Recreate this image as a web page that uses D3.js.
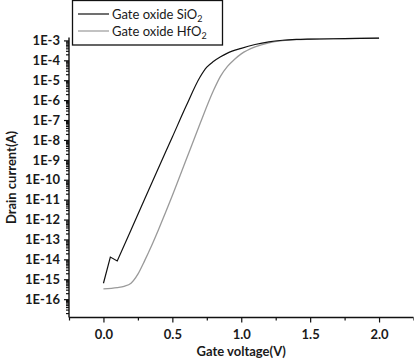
<!DOCTYPE html>
<html><head><meta charset="utf-8">
<script src="https://cdn.jsdelivr.net/npm/d3@7"></script>
<style>
html,body{margin:0;padding:0;background:#fff;}
svg{display:block;font-family:Lato, "Open Sans", sans-serif;}
</style></head>
<body><svg id="c" width="414" height="360"></svg>
<script>
// Gate voltage (V)
const vSiO2 = [0.00,0.05,0.10,0.20,0.30,0.40,0.50,0.60,0.70,0.75,0.80,0.85,0.90,1.00,1.10,1.20,1.30,1.40,1.50,1.75,2.00];
const iSiO2 = [6.3e-16,1.3e-14,8.3e-15,3.0e-13,1.1e-11,4.0e-10,1.4e-8,5.0e-7,1.4e-5,4.5e-5,8.9e-5,1.5e-4,2.3e-4,4.0e-4,6.2e-4,8.5e-4,1.02e-3,1.12e-3,1.17e-3,1.23e-3,1.29e-3];
const vHfO2 = [0.00,0.10,0.15,0.20,0.25,0.30,0.35,0.40,0.50,0.60,0.70,0.80,0.85,0.90,0.95,1.00,1.10,1.20,1.30,1.40,1.50,1.75,2.00];
const iHfO2 = [3.3e-16,3.8e-16,4.4e-16,6.3e-16,1.8e-15,8.9e-15,5.0e-14,3.2e-13,1.6e-11,1.0e-9,6.3e-8,3.2e-6,1.6e-5,5.0e-5,1.1e-4,2.1e-4,4.7e-4,7.6e-4,9.8e-4,1.10e-3,1.15e-3,1.23e-3,1.29e-3];
const seriesNames = ["Gate oxide SiO", "Gate oxide HfO"];
const xTickValues = [0, 0.5, 1.0, 1.5, 2.0];
const xTickLabels = ["0.0", "0.5", "1.0", "1.5", "2.0"];
const xMinorTicks = [-0.25, 0.25, 0.75, 1.25, 1.75, 2.25];
const yTickValues = [1e-3,1e-4,1e-5,1e-6,1e-7,1e-8,1e-9,1e-10,1e-11,1e-12,1e-13,1e-14,1e-15,1e-16];
const yTickLabels = ["1E-3","1E-4","1E-5","1E-6","1E-7","1E-8","1E-9","1E-10","1E-11","1E-12","1E-13","1E-14","1E-15","1E-16"];
const xDomain = [-0.25, 2.25];
const yDomain = [1.2e-17, 1.4e-3];

const svg = d3.select("#c");
const L = 69, R = 413.5, T = 37.5, B = 317.5;
const x = d3.scaleLinear().domain(xDomain).range([L, R]);
const y = d3.scaleLog().domain(yDomain).range([B, T]);

// minor log ticks
const yMinor = [];
for (let e = -17; e <= -3; e++) for (let m = 2; m <= 9; m++) {
  const v = m * Math.pow(10, e);
  if (v >= yDomain[0] && v <= yDomain[1]) yMinor.push(v);
}

const gY = svg.append("g").attr("transform", `translate(${L},0)`);
gY.call(d3.axisLeft(y).tickValues(yMinor).tickSize(3).tickFormat(""));
gY.call(g => g.select(".domain").remove());
const gY2 = svg.append("g").attr("transform", `translate(${L},0)`);
gY2.call(d3.axisLeft(y).tickValues(yTickValues).tickSize(5).tickPadding(4)
  .tickFormat((d, i) => yTickLabels[i]));
gY2.select(".domain").attr("d", `M-0,${T}V${B}`);

const gX = svg.append("g").attr("transform", `translate(0,${B})`);
gX.call(d3.axisBottom(x).tickValues(xMinorTicks).tickSize(3).tickFormat(""));
gX.call(g => g.select(".domain").remove());
const gX2 = svg.append("g").attr("transform", `translate(0,${B})`);
gX2.call(d3.axisBottom(x).tickValues(xTickValues).tickSize(5).tickPadding(7)
  .tickFormat((d, i) => xTickLabels[i]));
gX2.select(".domain").attr("d", `M${L},0H${R}`);

svg.selectAll(".domain").attr("stroke", "#111").attr("stroke-width", 1.4);
svg.selectAll(".tick line").attr("stroke", "#111").attr("stroke-width", 1.2);
svg.selectAll(".tick text").attr("font-family", "Lato").attr("font-weight", "bold")
  .attr("font-size", 13).attr("fill", "#1a1a1a");

const lineLin = d3.line().x(d => x(d[0])).y(d => y(d[1]));
const line = d3.line().x(d => x(d[0])).y(d => y(d[1])).curve(d3.curveMonotoneX);
const dS = vSiO2.map((v, i) => [v, iSiO2[i]]);
const dH = vHfO2.map((v, i) => [v, iHfO2[i]]);
svg.append("path").attr("d", line(dH)).attr("fill", "none").attr("stroke", "#9a9a9a").attr("stroke-width", 1.3);
svg.append("path").attr("d", lineLin(dS.slice(0, 4)) + line(dS.slice(3)).replace(/^M/, "L"))
  .attr("fill", "none").attr("stroke", "#111").attr("stroke-width", 1.2).attr("stroke-linejoin", "miter");

// axis titles
svg.append("text").attr("x", x(1.0)).attr("y", 356).attr("text-anchor", "middle")
  .attr("font-weight", "bold").attr("font-size", 13).attr("fill", "#1a1a1a")
  .text("Gate voltage(V)");
svg.append("text").attr("transform", `translate(16,${(T + B) / 2}) rotate(-90)`)
  .attr("text-anchor", "middle").attr("font-weight", "bold").attr("font-size", 13).attr("fill", "#1a1a1a")
  .text("Drain current(A)");

// legend
const lg = svg.append("g");
lg.append("rect").attr("x", 72.5).attr("y", 0.5).attr("width", 150).attr("height", 44.5)
  .attr("fill", "#fff").attr("stroke", "#111").attr("stroke-width", 1.3);
const legendColors = ["#111", "#9a9a9a"];
const legendY = [14, 31];
seriesNames.forEach((n, i) => {
  lg.append("line").attr("x1", 78).attr("x2", 109).attr("y1", legendY[i]).attr("y2", legendY[i])
    .attr("stroke", legendColors[i]).attr("stroke-width", 1.2);
  const t = lg.append("text").attr("x", 112).attr("y", legendY[i] + 4.5)
    .attr("font-size", 13).attr("fill", "#1a1a1a");
  t.append("tspan").text(n);
  t.append("tspan").attr("dy", 3).attr("font-size", 9).text("2");
});
</script></body></html>
